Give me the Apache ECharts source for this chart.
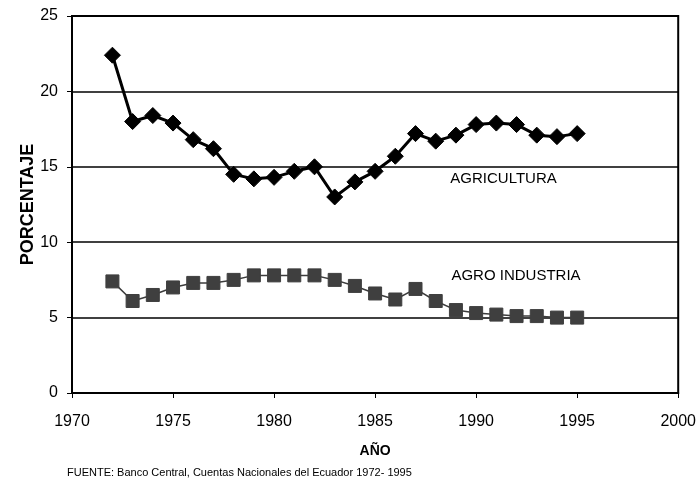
<!DOCTYPE html>
<html>
<head>
<meta charset="utf-8">
<script src="https://cdn.jsdelivr.net/npm/echarts@6/dist/echarts.min.js"></script>
<style>
  html, body { margin: 0; padding: 0; background: #fff; }
  #chart { width: 699px; height: 482px; }
</style>
</head>
<body>
<div id="chart"></div>
<script>
// Participación en el PIB (%), 1972-1995
const years = [1972, 1973, 1974, 1975, 1976, 1977, 1978, 1979, 1980, 1981, 1982, 1983,
               1984, 1985, 1986, 1987, 1988, 1989, 1990, 1991, 1992, 1993, 1994, 1995];
const agricultura = [22.4, 18.0, 18.4, 17.9, 16.8, 16.2, 14.5, 14.2, 14.3, 14.7, 15.0, 13.0,
                     14.0, 14.7, 15.7, 17.2, 16.7, 17.1, 17.8, 17.9, 17.8, 17.1, 17.0, 17.2];
const agroIndustria = [7.4, 6.1, 6.5, 7.0, 7.3, 7.3, 7.5, 7.8, 7.8, 7.8, 7.8, 7.5,
                       7.1, 6.6, 6.2, 6.9, 6.1, 5.5, 5.3, 5.2, 5.1, 5.1, 5.0, 5.0];
const xTicks = { min: 1970, max: 2000, step: 5 };
const yTicks = { min: 0, max: 25, step: 5 };
const seriesNames = ['AGRICULTURA', 'AGRO INDUSTRIA'];
const labelAnchors = [[1988.7, 14.2], [1988.75, 7.8]];
const fuente = 'FUENTE: Banco Central, Cuentas Nacionales del Ecuador 1972- 1995';

const FONT = '"Liberation Sans", Arial, sans-serif';
const pairs = arr => years.map((y, i) => [y, arr[i]]);

const chart = echarts.init(document.getElementById('chart'), null, { renderer: 'canvas' });

function seriesLabel(i) {
  return {
    symbol: 'none',
    silent: true,
    data: [{
      coord: labelAnchors[i],
      symbol: 'rect',
      symbolSize: 1,
      itemStyle: { color: 'rgba(0,0,0,0)' },
      label: {
        show: true, position: 'right', distance: 0,
        formatter: seriesNames[i], color: '#000',
        fontFamily: FONT, fontSize: 15
      }
    }]
  };
}

chart.setOption({
  backgroundColor: '#fff',
  animation: false,
  grid: {
    left: 72, right: 18, top: 16, bottom: 89,
    show: true, borderColor: '#000', borderWidth: 2, backgroundColor: '#fff'
  },
  xAxis: {
    type: 'value',
    min: xTicks.min, max: xTicks.max, interval: xTicks.step,
    name: 'AÑO', nameLocation: 'middle', nameGap: 51, nameMoveOverlap: false,
    nameTextStyle: { fontFamily: FONT, fontSize: 14, fontWeight: 'bold', color: '#000' },
    axisLine: { show: true, lineStyle: { color: '#000', width: 2 } },
    axisTick: { show: true, length: 5, lineStyle: { color: '#000', width: 1 } },
    axisLabel: { fontFamily: FONT, fontSize: 16, color: '#000', margin: 21, formatter: v => String(v) },
    splitLine: { show: false }
  },
  yAxis: {
    type: 'value',
    min: yTicks.min, max: yTicks.max, interval: yTicks.step,
    name: 'PORCENTAJE', nameLocation: 'middle', nameGap: 35, nameMoveOverlap: false,
    nameTextStyle: { fontFamily: FONT, fontSize: 18, fontWeight: 'bold', color: '#000' },
    axisLine: { show: true, lineStyle: { color: '#000', width: 2 } },
    axisTick: { show: true, length: 5, lineStyle: { color: '#000', width: 1 } },
    axisLabel: { fontFamily: FONT, fontSize: 16, color: '#000', margin: 14 },
    splitLine: { show: true, lineStyle: { color: '#000', width: 1.5 } }
  },
  series: [
    {
      name: seriesNames[0],
      type: 'line',
      data: pairs(agricultura),
      symbol: 'diamond',
      symbolSize: 16,
      lineStyle: { color: '#000', width: 3 },
      itemStyle: { color: '#000', borderColor: '#000' },
      z: 3,
      markPoint: seriesLabel(0)
    },
    {
      name: seriesNames[1],
      type: 'line',
      data: pairs(agroIndustria),
      symbol: 'rect',
      symbolSize: 13,
      lineStyle: { color: '#3c3c3c', width: 1.5 },
      itemStyle: { color: '#3f3f3f', borderColor: '#3f3f3f' },
      z: 2,
      markPoint: seriesLabel(1)
    }
  ],
  graphic: [{
    type: 'text',
    left: 67, top: 467,
    style: { text: fuente, fontFamily: FONT, fontSize: 11, fill: '#000' }
  }]
});
</script>
</body>
</html>
